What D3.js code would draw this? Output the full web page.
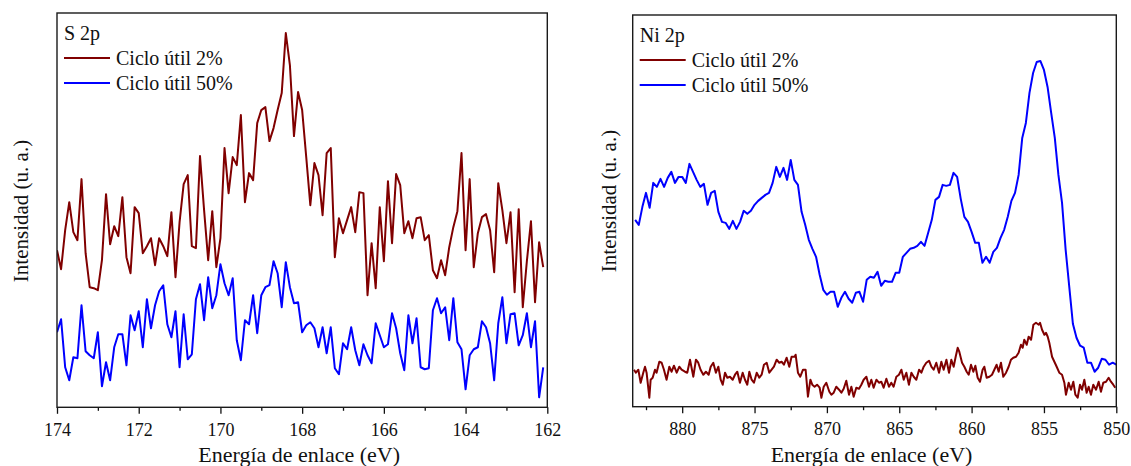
<!DOCTYPE html>
<html>
<head>
<meta charset="utf-8">
<script src="https://cdn.jsdelivr.net/npm/d3@7/dist/d3.min.js"></script>
<style>
  html, body { margin: 0; padding: 0; background: #fff; }
  svg { display: block; }
</style>
</head>
<body>
<svg id="chart" width="1131" height="466"></svg>
<script>
const FONT = "'Liberation Serif', 'Times New Roman', Times, 'DejaVu Serif', serif";

// ---------- S 2p spectrum (binding energy 174.0 -> 162.1 eV, 0.1 eV step) ----------
const s2pStart = 174.0;
const s2pStep = 0.1;
const s2pDuty2 = [
  157,138,177,205,175,167,228,154,120,119,
  117,147,213,163,181,171,210,150,134,200,
  194,154,161,169,142,169,161,151,195,130,
  185,223,232,161,159,251,197,147,196,140,
  169,259,214,250,242,292,205,234,227,284,
  297,300,266,279,297,314,374,342,271,315,
  297,250,202,244,232,192,254,259,150,189,
  174,187,200,175,215,214,112,164,119,200,
  146,226,164,233,222,174,186,169,189,190,
  167,172,137,129,147,132,160,180,196,254,
  157,228,140,174,190,193,177,135,224,197,
  164,195,115,198,100,146,186,105,165,140
];
const s2pDuty50 = [
  75,88,40,27,50,49,102,56,52,49,
  75,21,45,27,60,73,73,42,92,77,
  96,60,108,79,102,116,122,83,70,96,
  40,93,48,53,108,123,87,130,99,112,
  143,124,112,129,67,47,87,83,112,74,
  112,120,122,146,134,100,145,120,104,105,
  75,82,85,79,60,80,54,80,39,33,
  64,58,80,57,42,63,52,44,84,72,
  60,63,94,79,54,37,92,64,89,40,
  38,39,97,109,94,100,67,109,65,58,
  18,52,58,60,86,80,64,27,84,110,
  64,93,94,62,72,94,60,86,10,40
];
const s2pTicks = [174, 172, 170, 168, 166, 164, 162];
const s2pMinorTicks = [173, 171, 169, 167, 165, 163];

// ---------- Ni 2p spectrum ----------
// 2 % duty cycle: measured energies (eV) and intensities
const ni2pDuty2Energy = [
  883.33,883.20,883.03,882.87,882.69,882.57,882.46,882.27,882.18,882.04,
  881.88,881.77,881.58,881.42,881.26,881.08,880.89,880.73,880.57,880.38,
  880.20,880.04,879.81,879.65,879.46,879.23,879.05,878.89,878.73,878.54,
  878.36,878.17,878.03,877.85,877.67,877.50,877.34,877.20,877.04,876.88,
  876.70,876.51,876.35,876.19,876.01,875.82,875.66,875.50,875.36,875.20,
  875.04,874.85,874.67,874.51,874.35,874.16,873.98,873.82,873.66,873.47,
  873.29,873.13,872.97,872.78,872.60,872.44,872.23,
  872.16,872.00,871.84,871.65,871.47,871.31,871.14,871.01,870.85,870.68,
  870.50,870.38,870.22,870.04,869.83,869.69,869.53,869.35,869.16,869.00,
  868.84,868.66,868.47,868.31,868.15,867.97,867.78,867.62,867.46,867.27,
  867.09,866.93,866.77,866.58,866.40,866.24,866.08,865.89,865.71,865.55,
  865.39,865.20,865.02,864.85,864.69,864.51,864.33,864.16,864.00,863.82,
  863.63,863.47,863.31,863.13,862.94,862.78,862.62,862.44,862.25,862.09,
  861.93,861.74,861.56,861.40,861.24,861.10,860.96,
  860.85,860.66,860.50,860.34,860.20,860.04,859.88,859.74,859.58,859.42,
  859.24,859.12,858.96,858.77,858.59,858.43,858.27,858.13,857.97,857.81,
  857.62,857.44,857.28,857.12,856.93,856.75,856.59,856.47,856.36,856.19,
  856.06,855.89,855.73,855.55,855.36,855.27,855.13,854.97,854.86,854.74,
  854.63,854.44,854.28,854.12,853.94,853.75,853.59,853.48,853.29,853.13,
  852.97,852.83,852.67,852.51,852.37,852.21,852.05,851.91,851.75,851.59,
  851.40,851.22,851.06,850.90,850.71,850.53,850.37,850.21,850.07
];
const ni2pDuty2 = [
  37,34,37,24,34,40,34,9,27,29,
  37,34,45,44,37,27,40,35,41,34,
  40,37,35,34,47,30,47,44,37,32,
  35,32,40,44,34,40,27,22,34,29,
  30,27,32,35,24,34,27,22,35,27,
  24,34,29,32,42,44,34,37,40,47,
  44,45,42,49,40,50,50,
  52,34,30,37,37,10,27,22,20,22,
  19,9,20,24,15,12,14,20,17,14,
  18,26,12,20,10,19,18,22,27,30,
  20,27,19,27,24,25,19,28,20,24,
  20,30,32,37,27,34,22,34,30,27,
  37,34,40,44,46,40,37,44,34,45,
  37,47,34,47,40,50,59,
  55,44,40,35,32,42,35,41,29,25,
  37,40,29,30,32,37,42,35,44,30,
  34,40,47,49,50,54,62,59,67,62,
  70,67,82,84,82,84,77,72,74,70,
  64,50,45,40,34,32,24,12,24,17,
  25,12,9,22,17,27,14,20,12,22,
  17,25,15,24,25,29,25,22,19
];
// 50 % duty cycle: 883.25 -> 850.0 eV, 0.25 eV step
const ni2pStart = 883.25;
const ni2pStep = 0.25;
const ni2pDuty50 = [
  187,182,200,214,199,224,220,228,220,229,235,224,230,230,224,243,235,227,220,223,
  202,214,216,195,185,184,178,186,178,185,196,193,196,202,206,209,212,214,224,240,
  230,239,227,247,227,
  222,195,182,167,158,150,132,117,112,115,115,100,109,115,108,104,114,115,105,127,
  130,129,135,121,126,125,125,134,134,150,154,158,159,161,165,161,174,187,207,210,
  222,221,222,234,
  230,208,190,185,175,164,164,144,150,144,155,159,169,177,190,206,214,232,269,284,
  314,334,345,346,337,320,294,269,232,204,157,120,83,69,61,59,44,44,35,39,
  48,47,42,44,42
];
const ni2pTicks = [880, 875, 870, 865, 860, 855, 850];
const ni2pMinorTicks = [882.5, 877.5, 872.5, 867.5, 862.5, 857.5, 852.5];

const seriesNames = ["Ciclo útil 2%", "Ciclo útil 50%"];
const seriesColors = ["#800000", "#0000ff"];
const xTitle = "Energía de enlace (eV)";
const yTitle = "Intensidad (u. a.)";

const svg = d3.select("#chart");

function gridPoints(start, step, values) {
  return values.map((v, i) => ({ e: start - i * step, v }));
}
function pairedPoints(energies, values) {
  return values.map((v, i) => ({ e: energies[i], v }));
}

function drawPanel(cfg) {
  const g = svg.append("g");
  const x = d3.scaleLinear().domain(cfg.xDomain).range([cfg.left, cfg.right]);
  const y = d3.scaleLinear().domain(cfg.yDomain).range([cfg.bottom, cfg.top]);

  const clipId = "clip-" + cfg.id;
  svg.append("clipPath").attr("id", clipId)
    .append("rect")
    .attr("x", cfg.left).attr("y", cfg.top)
    .attr("width", cfg.right - cfg.left).attr("height", cfg.bottom - cfg.top);

  const line = d3.line().x(d => x(d.e)).y(d => y(d.v));

  cfg.series.forEach((pts, i) => {
    g.append("path")
      .datum(pts)
      .attr("clip-path", `url(#${clipId})`)
      .attr("fill", "none")
      .attr("stroke", seriesColors[i])
      .attr("stroke-width", 2)
      .attr("stroke-linejoin", "round")
      .attr("d", line);
  });

  // minor ticks
  g.append("g")
    .attr("transform", `translate(0,${cfg.bottom})`)
    .call(d3.axisBottom(x).tickValues(cfg.minorTicks).tickSize(3.5).tickFormat(""))
    .call(a => a.select(".domain").remove())
    .call(a => a.selectAll("line").attr("stroke", "#111").attr("stroke-width", 1.3));

  // major ticks and labels
  g.append("g")
    .attr("transform", `translate(0,${cfg.bottom})`)
    .call(d3.axisBottom(x).tickValues(cfg.ticks).tickSize(6.5).tickPadding(9).tickFormat(d3.format("d")))
    .call(a => a.select(".domain").remove())
    .call(a => a.selectAll("line").attr("stroke", "#111").attr("stroke-width", 1.3))
    .call(a => a.attr("font-family", FONT).attr("font-size", 18))
    .call(a => a.selectAll("text").attr("font-family", FONT).attr("fill", "#111"));

  // frame
  g.append("rect")
    .attr("x", cfg.left).attr("y", cfg.top)
    .attr("width", cfg.right - cfg.left).attr("height", cfg.bottom - cfg.top)
    .attr("fill", "none").attr("stroke", "#1a1a1a").attr("stroke-width", 1.4);

  // axis titles
  g.append("text")
    .attr("x", (cfg.left + cfg.right) / 2 - 3)
    .attr("y", 462)
    .attr("text-anchor", "middle")
    .attr("font-family", FONT).attr("fill", "#111")
    .attr("font-size", 22)
    .text(xTitle);

  g.append("text")
    .attr("transform", `translate(${cfg.yTitleX},${cfg.yTitleY}) rotate(-90)`)
    .attr("text-anchor", "middle")
    .attr("font-family", FONT).attr("fill", "#111")
    .attr("font-size", 21)
    .text(yTitle);

  // legend
  const lx = cfg.left + 7;
  g.append("text")
    .attr("x", lx).attr("y", cfg.legendTop)
    .attr("font-family", FONT).attr("fill", "#111")
    .attr("font-size", 20)
    .text(cfg.label);
  seriesNames.forEach((name, i) => {
    const ly = cfg.legendTop + 18 + i * 25;
    g.append("line")
      .attr("x1", lx).attr("x2", lx + 46)
      .attr("y1", ly).attr("y2", ly)
      .attr("stroke", seriesColors[i]).attr("stroke-width", 2.2);
    g.append("text")
      .attr("x", lx + 52).attr("y", ly + 7)
      .attr("font-family", FONT).attr("fill", "#111")
      .attr("font-size", 20)
      .text(name);
  });
}

drawPanel({
  id: "s2p", label: "S 2p",
  left: 57, right: 547.3, top: 13, bottom: 407.3,
  xDomain: [174, 162], yDomain: [0, 394],
  series: [gridPoints(s2pStart, s2pStep, s2pDuty2), gridPoints(s2pStart, s2pStep, s2pDuty50)],
  ticks: s2pTicks, minorTicks: s2pMinorTicks,
  yTitleX: 28, yTitleY: 211, legendTop: 40
});

drawPanel({
  id: "ni2p", label: "Ni 2p",
  left: 632.7, right: 1116.3, top: 15, bottom: 406.7,
  xDomain: [883.42, 850], yDomain: [0, 392],
  series: [pairedPoints(ni2pDuty2Energy, ni2pDuty2), gridPoints(ni2pStart, ni2pStep, ni2pDuty50)],
  ticks: ni2pTicks, minorTicks: ni2pMinorTicks,
  yTitleX: 616, yTitleY: 201, legendTop: 42
});
</script>
</body>
</html>
